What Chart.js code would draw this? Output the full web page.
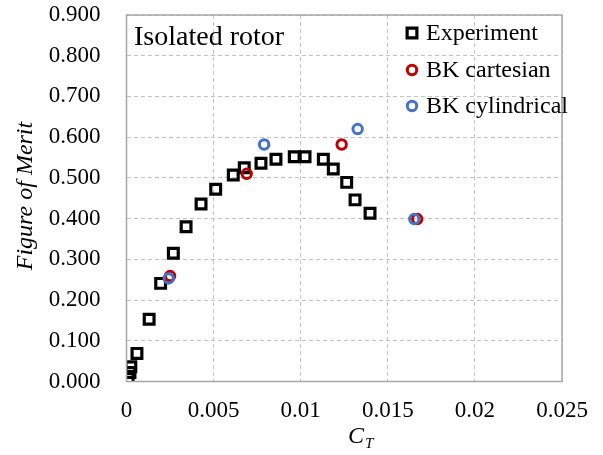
<!DOCTYPE html>
<html>
<head>
<meta charset="utf-8">
<script src="https://cdn.jsdelivr.net/npm/chart.js@4"></script>
<style>
  html, body { margin: 0; padding: 0; background: #fff; }
  #wrap { width: 603px; height: 455px; position: relative; }
</style>
</head>
<body>
<div id="wrap"><canvas id="chart"></canvas></div>
<script>
// Experiment (C_T, FoM)
const expCt = [0.0001, 0.0002, 0.00025, 0.0006, 0.0013, 0.00196, 0.00269, 0.00342, 0.00428, 0.00512,
               0.00613, 0.00676, 0.00772, 0.00858, 0.00963, 0.01025, 0.0113, 0.01187, 0.01264, 0.01312, 0.01398];
const expFm = [0.008, 0.022, 0.036, 0.069, 0.153, 0.241, 0.315, 0.380, 0.436, 0.472,
               0.507, 0.525, 0.536, 0.546, 0.552, 0.552, 0.546, 0.522, 0.489, 0.446, 0.413];

const cartCt = [0.0025, 0.0069, 0.01235, 0.01669];
const cartFm = [0.259, 0.510, 0.582, 0.399];

const cylCt = [0.00242, 0.0079, 0.01327, 0.01652];
const cylFm = [0.253, 0.582, 0.620, 0.399];

const xTicks = [0, 0.005, 0.01, 0.015, 0.02, 0.025];
const yTicks = [0, 0.1, 0.2, 0.3, 0.4, 0.5, 0.6, 0.7, 0.8, 0.9];

const seriesNames = ['Experiment', 'BK cartesian', 'BK cylindrical'];

const FONT = '"Liberation Serif", "Times New Roman", serif';

function pts(xs, ys) {
    return xs.map(function (x, i) { return { x: x, y: ys[i] }; });
}

const frameAndLabels = {
    id: 'frameAndLabels',
    afterDraw: function (chart) {
        const ctx = chart.ctx;
        const a = chart.chartArea;
        ctx.save();
        // plot frame
        ctx.strokeStyle = '#a6a6a6';
        ctx.lineWidth = 1.5;
        ctx.strokeRect(a.left, a.top, a.right - a.left, a.bottom - a.top);

        ctx.fillStyle = '#000';
        // in-plot title
        ctx.font = '28px ' + FONT;
        ctx.textBaseline = 'alphabetic';
        ctx.textAlign = 'left';
        ctx.fillText('Isolated rotor', 134, 45);

        // legend
        const rows = [33, 70, 106];
        chart.data.datasets.forEach(function (ds, i) {
            const mx = 412, my = rows[i];
            ctx.lineWidth = ds.borderWidth;
            ctx.strokeStyle = ds.borderColor;
            ctx.beginPath();
            if (ds.pointStyle === 'rect') {
                const h = ds.pointRadius * Math.SQRT1_2;
                ctx.rect(mx - h, my - h, 2 * h, 2 * h);
            } else {
                ctx.arc(mx, my, ds.pointRadius, 0, Math.PI * 2);
            }
            ctx.stroke();
            ctx.font = '24px ' + FONT;
            ctx.textBaseline = 'middle';
            ctx.fillText(ds.label, 426, my + 1);
        });

        // y title
        ctx.font = 'italic 24px ' + FONT;
        ctx.textAlign = 'center';
        ctx.textBaseline = 'middle';
        ctx.translate(26, 196);
        ctx.rotate(-Math.PI / 2);
        ctx.fillText('Figure of Merit', 0, 0);
        ctx.setTransform(1, 0, 0, 1, 0, 0);

        // x title C_T
        ctx.textAlign = 'left';
        ctx.textBaseline = 'alphabetic';
        ctx.font = 'italic 24px ' + FONT;
        ctx.fillText('C', 348, 443);
        ctx.font = 'italic 15px ' + FONT;
        ctx.fillText('T', 365, 448);
        ctx.restore();
    }
};

const ctx = document.getElementById('chart').getContext('2d');
new Chart(ctx, {
    type: 'scatter',
    data: {
        datasets: [
            {
                label: seriesNames[0],
                data: pts(expCt, expFm),
                pointStyle: 'rect',
                pointRadius: 6.9,
                borderWidth: 3.2,
                borderColor: '#000000',
                backgroundColor: 'rgba(0,0,0,0)',
                order: 3
            },
            {
                label: seriesNames[1],
                data: pts(cartCt, cartFm),
                pointStyle: 'circle',
                pointRadius: 4.7,
                borderWidth: 3,
                borderColor: '#c00000',
                backgroundColor: 'rgba(0,0,0,0)',
                order: 2
            },
            {
                label: seriesNames[2],
                data: pts(cylCt, cylFm),
                pointStyle: 'circle',
                pointRadius: 4.7,
                borderWidth: 3,
                borderColor: '#4472c4',
                backgroundColor: 'rgba(0,0,0,0)',
                order: 1
            }
        ]
    },
    options: {
        responsive: true,
        maintainAspectRatio: false,
        animation: false,
        layout: { padding: { top: 15, right: 41, left: 0, bottom: 0 } },
        plugins: {
            legend: { display: false },
            tooltip: { enabled: false }
        },
        scales: {
            x: {
                type: 'linear',
                min: 0,
                max: 0.025,
                afterFit: function (s) { s.height = 73.5; s.paddingLeft = 0; s.paddingRight = 0; },
                afterBuildTicks: function (s) { s.ticks = xTicks.map(function (v) { return { value: v }; }); },
                ticks: {
                    color: '#000',
                    font: { family: FONT, size: 23 },
                    padding: 16,
                    maxRotation: 0,
                    callback: function (v) { return String(+v.toFixed(3)); }
                },
                grid: { color: '#c4c4c4', lineWidth: 1, drawTicks: false },
                border: { display: true, color: '#a6a6a6', dash: [4, 3] }
            },
            y: {
                type: 'linear',
                min: 0,
                max: 0.9,
                afterFit: function (s) { s.width = 126.5; s.paddingTop = 0; s.paddingBottom = 0; },
                afterBuildTicks: function (s) { s.ticks = yTicks.map(function (v) { return { value: v }; }); },
                ticks: {
                    color: '#000',
                    font: { family: FONT, size: 23 },
                    padding: 26,
                    callback: function (v) { return v.toFixed(3); }
                },
                grid: { color: '#c4c4c4', lineWidth: 1, drawTicks: false },
                border: { display: true, color: '#a6a6a6', dash: [4, 3] }
            }
        }
    },
    plugins: [frameAndLabels]
});
</script>
</body>
</html>
